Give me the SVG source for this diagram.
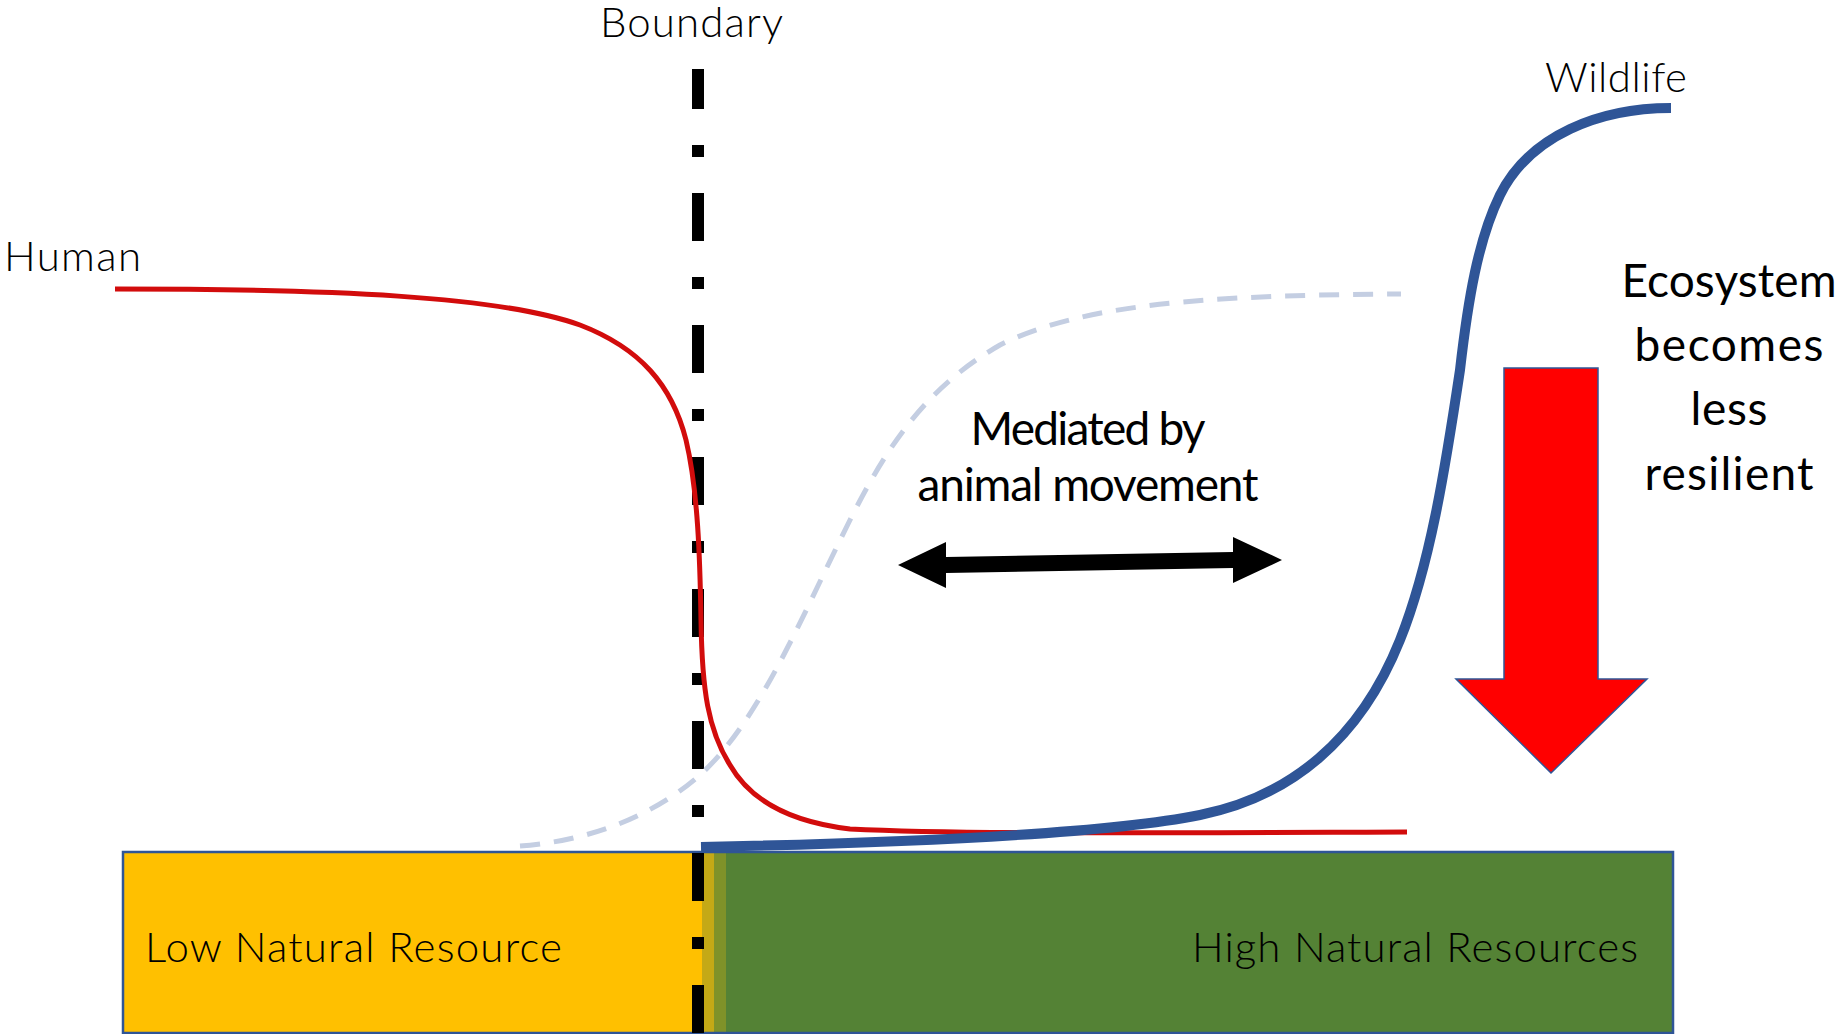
<svg xmlns="http://www.w3.org/2000/svg" width="1839" height="1034" viewBox="0 0 1839 1034">
  <style>
    .light { font-family: Lato, "Liberation Sans", sans-serif; font-weight: 300; font-size: 42px; fill: #000; }
    .reg { font-family: Lato, "Liberation Sans", sans-serif; font-weight: 400; font-size: 46px; fill: #000; }
    .mid { text-anchor: middle; }
  </style>
  <rect x="0" y="0" width="1839" height="1034" fill="#fff"/>

  <g id="resource-bar">
    <rect x="123" y="852" width="1550" height="181" fill="#548235"/>
    <rect x="123" y="852" width="579" height="181" fill="#ffc000"/>
    <rect x="702" y="852" width="12" height="181" fill="#c4a916"/>
    <rect x="714" y="852" width="12" height="181" fill="#7f9229"/>
    <rect x="123" y="852" width="1550" height="181" fill="none" stroke="#2f5597" stroke-width="2.5"/>
  </g>
  <g id="low-resource">
    <text class="light" x="145" y="962" textLength="417">Low Natural Resource</text>
  </g>
  <g id="high-resource">
    <text class="light" x="1192" y="962" textLength="446">High Natural Resources</text>
  </g>

  <g id="boundary">
    <text class="light" x="600" y="37" textLength="183">Boundary</text>
    <line x1="698" y1="69" x2="698" y2="1034" stroke="#000" stroke-width="12" stroke-dasharray="48 36 12 36" stroke-dashoffset="8"/>
  </g>

  <g id="human-label">
    <text class="light" x="4" y="271" textLength="137">Human</text>
  </g>
  <g id="wildlife-label">
    <text class="light" x="1545" y="92" textLength="142">Wildlife</text>
  </g>

  <g id="connectors">
    <path id="potential-curve" d="M520,846 C600,840 660,810 700,775 C760,720 800,620 850,520 C890,440 930,385 1000,345 C1080,305 1200,295 1401,294" fill="none" stroke="#c4cee2" stroke-width="5" stroke-dasharray="20 14"/>
    <path id="human-curve" d="M115,289 C330,289 500,296 580,325 C640,348 672,385 686,440 C698,490 700,560 701,620 C702,690 708,730 730,765 C750,800 790,822 850,829 C950,834 1100,833 1407,832" fill="none" stroke="#d20c0c" stroke-width="5"/>
    <path id="wildlife-curve" d="M701,847 C900,843 1100,835 1200,815 C1290,797 1360,740 1400,640 C1430,565 1445,470 1460,370 C1468,300 1478,240 1500,195 C1530,135 1600,108 1671,108" fill="none" stroke="#2f5597" stroke-width="10"/>
    <polygon id="movement-arrow" points="898,565 946,542 946,557 1233,552 1233,537 1282,560 1233,583 1233,568 946,573 946,588" fill="#000"/>
  </g>

  <g id="mediated-label">
    <text class="reg mid" x="1088" y="445" textLength="235">Mediated by</text>
    <text class="reg mid" x="1088" y="501" textLength="341">animal movement</text>
  </g>

  <g id="red-arrow">
    <polygon points="1504,368 1598,368 1598,679 1647,679 1551,773 1456,679 1504,679" fill="#ff0000" stroke="#2f5597" stroke-width="1.5"/>
  </g>

  <g id="ecosystem-label">
    <text class="reg mid" x="1729" y="297" textLength="215">Ecosystem</text>
    <text class="reg mid" x="1729" y="361" textLength="189">becomes</text>
    <text class="reg mid" x="1729" y="425" textLength="77">less</text>
    <text class="reg mid" x="1729" y="490" textLength="169">resilient</text>
  </g>
</svg>
